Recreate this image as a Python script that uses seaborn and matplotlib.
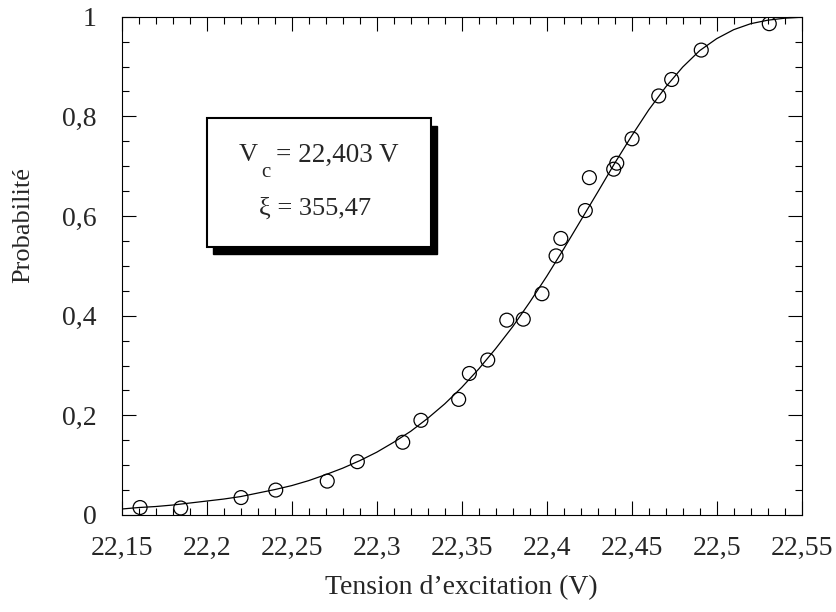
import matplotlib
matplotlib.use("Agg")
import matplotlib.pyplot as plt
from matplotlib.patches import Rectangle
from matplotlib.ticker import MultipleLocator, FixedLocator, FixedFormatter
import seaborn as sns
import pandas as pd

# --- data ---
tension = [22.1608, 22.1847, 22.2202, 22.2406, 22.2709, 22.2886, 22.3153, 22.3260,
           22.3482, 22.3545, 22.3653, 22.3765, 22.3862, 22.3972, 22.4055, 22.4083,
           22.4227, 22.4251, 22.4394, 22.4412, 22.4502, 22.4659, 22.4735, 22.4909,
           22.5309]
proba = [0.015, 0.014, 0.035, 0.050, 0.068, 0.107, 0.146, 0.190,
         0.232, 0.284, 0.311, 0.391, 0.393, 0.444, 0.520, 0.555,
         0.611, 0.677, 0.694, 0.706, 0.755, 0.841, 0.874, 0.933,
         0.986]

# fitted curve, read every 0.01 V
fit_v = [22.15, 22.16, 22.17, 22.18, 22.19, 22.20, 22.21, 22.22, 22.23, 22.24,
         22.25, 22.26, 22.27, 22.28, 22.29, 22.30, 22.31, 22.32, 22.33, 22.34,
         22.35, 22.36, 22.37, 22.38, 22.39, 22.40, 22.41, 22.42, 22.43, 22.44,
         22.45, 22.46, 22.47, 22.48, 22.49, 22.50, 22.51, 22.52, 22.53, 22.54,
         22.55]
fit_p = [0.012, 0.015, 0.017, 0.020, 0.024, 0.028, 0.032, 0.037, 0.044, 0.051,
         0.059, 0.069, 0.081, 0.094, 0.109, 0.126, 0.146, 0.168, 0.194, 0.223,
         0.256, 0.293, 0.334, 0.378, 0.427, 0.479, 0.534, 0.591, 0.648, 0.706,
         0.761, 0.813, 0.859, 0.899, 0.932, 0.956, 0.974, 0.986, 0.993, 0.997,
         0.999]

x_ticks = [22.15, 22.2, 22.25, 22.3, 22.35, 22.4, 22.45, 22.5, 22.55]
x_labels = ["22,15", "22,2", "22,25", "22,3", "22,35", "22,4", "22,45", "22,5", "22,55"]
y_ticks = [0, 0.2, 0.4, 0.6, 0.8, 1]
y_labels = ["0", "0,2", "0,4", "0,6", "0,8", "1"]

df_pts = pd.DataFrame({"tension": tension, "proba": proba})
df_fit = pd.DataFrame({"tension": fit_v, "proba": fit_p})

sns.set_style("ticks")
plt.rcParams["font.family"] = ["Liberation Serif", "DejaVu Serif"]

fig = plt.figure(figsize=(8.36, 6.12), dpi=100)
ax = fig.add_axes([0.1456, 0.1585, 0.8134, 0.8142])

sns.lineplot(data=df_fit, x="tension", y="proba", color="black", linewidth=0.9, ax=ax)
sns.scatterplot(data=df_pts, x="tension", y="proba", marker="o", s=100,
                facecolors="none", edgecolor="black", linewidth=0.9, ax=ax, zorder=3)

ax.set_xlim(22.15, 22.55)
ax.set_ylim(0, 1)
ax.xaxis.set_major_locator(FixedLocator(x_ticks))
ax.xaxis.set_major_formatter(FixedFormatter(x_labels))
ax.xaxis.set_minor_locator(MultipleLocator(0.01))
ax.yaxis.set_major_locator(FixedLocator(y_ticks))
ax.yaxis.set_major_formatter(FixedFormatter(y_labels))
ax.yaxis.set_minor_locator(MultipleLocator(0.05))

ax.tick_params(which="both", direction="in", top=True, right=True, color="black", width=0.8)
ax.tick_params(which="major", length=10, labelsize=20)
ax.tick_params(which="minor", length=5)
ax.tick_params(axis="x", which="major", pad=15)
ax.tick_params(axis="y", which="major", pad=18)
for sp in ax.spines.values():
    sp.set_linewidth(0.8)
    sp.set_color("black")

ax.set_xlabel("Tension d’excitation (V)", fontsize=20)
ax.set_ylabel("Probabilité", fontsize=19)
ax.xaxis.set_label_coords(0.5, -0.12)
ax.yaxis.set_label_coords(-0.128, 0.581)

# encadré avec ombre
bx, by, bw, bh = 0.125, 0.5384, 0.330, 0.2576
ax.add_patch(Rectangle((bx + 0.009, by - 0.015), bw, bh, transform=ax.transAxes,
                       facecolor="black", edgecolor="black", zorder=4))
ax.add_patch(Rectangle((bx, by), bw, bh, transform=ax.transAxes,
                       facecolor="white", edgecolor="black", linewidth=1.5, zorder=5))
ax.text(0.1725, 0.7225, "V", transform=ax.transAxes,
        ha="left", va="center", fontsize=19, zorder=6)
ax.text(0.2049, 0.688, "c", transform=ax.transAxes,
        ha="left", va="center", fontsize=15, zorder=6)
ax.text(0.2269, 0.7225, "= 22,403 V", transform=ax.transAxes,
        ha="left", va="center", fontsize=19.5, zorder=6)
ax.text(0.2843, 0.614, "ξ = 355,47", transform=ax.transAxes,
        ha="center", va="center", fontsize=19, zorder=6)

plt.savefig("out.png", dpi=100)
plt.close()
